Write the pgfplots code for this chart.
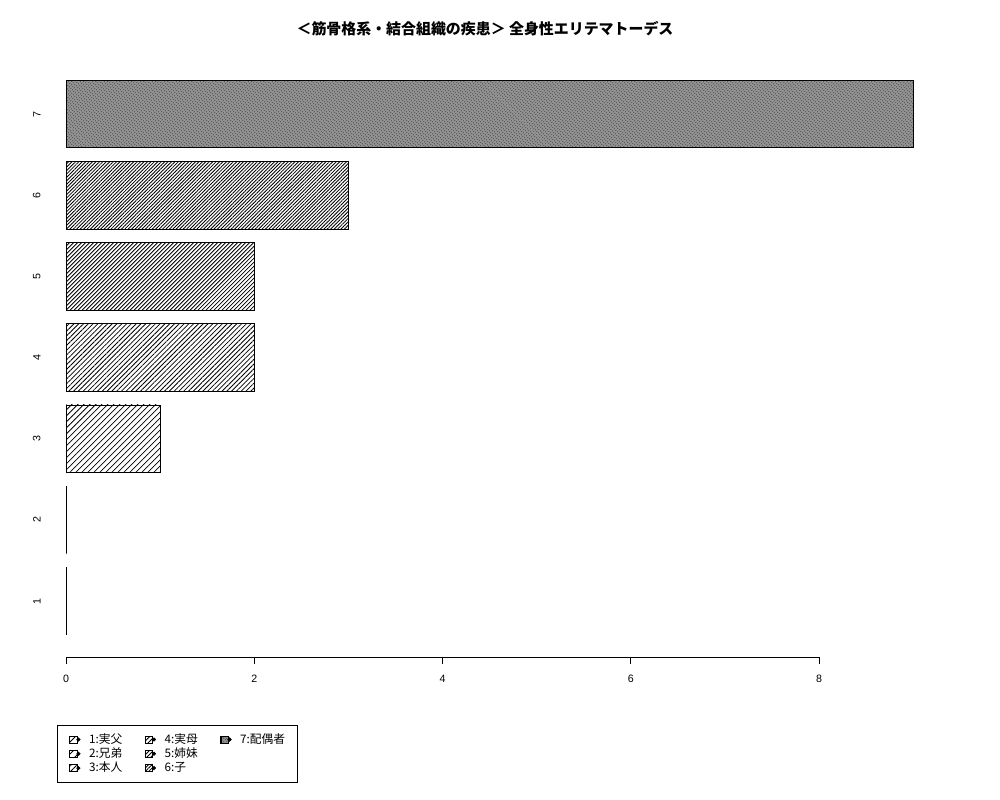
\documentclass[border=0pt]{standalone}
\usepackage{pgfplots}
\pgfplotsset{compat=1.18}
\usepackage{fontspec}
\setmainfont{Liberation Sans}
\newfontfamily\cjk{Noto Sans CJK JP}
\usetikzlibrary{patterns.meta}

% hatch spacing per category (R density hatching)
\tikzset{
  h1/.style={pattern={Lines[angle=45,distance=6.35pt,line width=0.6pt]}},
  h2/.style={pattern={Lines[angle=45,distance=4.24pt,line width=0.6pt]}},
  h3/.style={pattern={Lines[angle=45,distance=3.18pt,line width=0.6pt]}},
  h4/.style={pattern={Lines[angle=45,distance=2.54pt,line width=0.6pt]}},
  h5/.style={pattern={Lines[angle=45,distance=2.12pt,line width=0.6pt]}},
  h6/.style={pattern={Lines[angle=45,distance=1.82pt,line width=0.65pt]}},
  h7/.style={preaction={fill=black!42},
    pattern={Lines[angle=45,distance=1.59pt,line width=0.5pt]}},
}

\begin{document}
\begin{tikzpicture}
\useasboundingbox (0,0) rectangle (750pt,600pt);
\node[font=\cjk\bfseries\fontsize{11.2}{13}\selectfont] at (363.75pt,578.25pt)
  {＜筋骨格系・結合組織の疾患＞ 全身性エリテマトーデス};
\begin{axis}[
  at={(35.4pt,107.2pt)}, anchor=south west,
  scale only axis,
  width=674.9pt, height=449.25pt,
  xbar, bar shift=0pt, bar width=1,
  xmin=-0.2, xmax=9.36,
  ymin=-0.128, ymax=8.728,
  axis x line*=bottom, axis y line*=left,
  x axis line style={draw=none},
  y axis line style={draw=none},
  ytick style={draw=none},
  xtick={0,2,4,6,8},
  ytick={0.7,1.9,3.1,4.3,5.5,6.7,7.9},
  yticklabels={1,2,3,4,5,6,7},
  tick align=outside,
  major tick length=5.25pt,
  xtick style={line width=0.6pt,black},
  tick label style={font=\fontsize{8}{9}\selectfont},
  /pgf/number format/assume math mode=true,
  yticklabel style={rotate=90, anchor=south, inner sep=0pt, yshift=-0.5pt},
  xticklabel style={anchor=north, inner sep=0pt, yshift=-8pt},
  legend style={at={(0,0)}, anchor=north west, xshift=7.35pt, yshift=-51pt,
    draw=black, line width=0.6pt, font=\cjk\fontsize{8.8}{10}\selectfont,
    inner xsep=9pt, inner ysep=5.2pt, row sep=0pt,
    nodes={inner xsep=0pt, inner ysep=1pt, text height=7pt, text depth=1.7pt},
    /tikz/every odd column/.append style={column sep=6.5pt},
    /tikz/every even column/.append style={column sep=17pt}},
  legend columns=3,
  legend cell align=left,
  legend image code/.code={\draw[#1,line width=0.5pt] (0pt,-2.6pt) rectangle (5.5pt,2.6pt);
    \fill[black] (6.5pt,0pt) circle (1.2pt);},
]
\addplot[draw=black, line width=0.6pt, h1, forget plot] coordinates {(0,0.7)};
\addplot[draw=black, line width=0.6pt, h2, forget plot] coordinates {(0,1.9)};
\addplot[draw=black, line width=0.6pt, h3, forget plot] coordinates {(1,3.1)};
\addplot[draw=black, line width=0.6pt, h4, forget plot] coordinates {(2,4.3)};
\addplot[draw=black, line width=0.6pt, h5, forget plot] coordinates {(2,5.5)};
\addplot[draw=black, line width=0.6pt, h6, forget plot] coordinates {(3,6.7)};
\addplot[draw=black, line width=0.6pt, h7, forget plot] coordinates {(9,7.9)};
\draw[line width=0.6pt] (axis cs:0,-0.128) -- (axis cs:8,-0.128);
% legend, column-wise order
\addlegendimage{draw=black,h1}\addlegendentry{1:実父}
\addlegendimage{draw=black,h4}\addlegendentry{4:実母}
\addlegendimage{draw=black,h7}\addlegendentry{7:配偶者}
\addlegendimage{draw=black,h2}\addlegendentry{2:兄弟}
\addlegendimage{draw=black,h5}\addlegendentry{5:姉妹}
\addlegendimage{empty legend}\addlegendentry{}
\addlegendimage{draw=black,h3}\addlegendentry{3:本人}
\addlegendimage{draw=black,h6}\addlegendentry{6:子}
\addlegendimage{empty legend}\addlegendentry{}
\end{axis}
\end{tikzpicture}
\end{document}
